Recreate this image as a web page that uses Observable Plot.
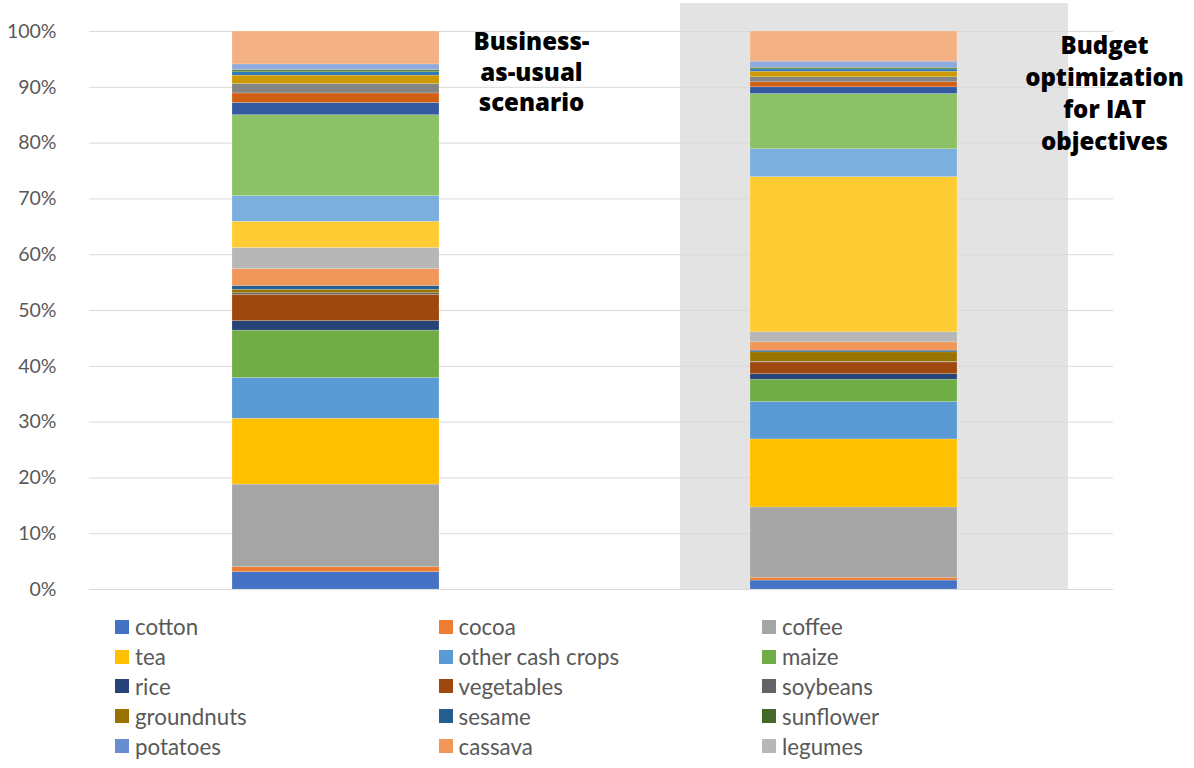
<!DOCTYPE html>
<html>
<head>
<meta charset="utf-8">
<script src="https://cdn.jsdelivr.net/npm/d3@7"></script>
<script src="https://cdn.jsdelivr.net/npm/@observablehq/plot@0.6"></script>
<style>
  body { margin: 0; background: #fff; font-family: Lato, sans-serif; }
  #legend { display: grid; grid-template-columns: 323.5px 323.5px 323.5px; padding-left: 115px; margin-top: 7px; }
  .item { display: flex; align-items: center; height: 29.8px; font-size: 22.3px; color: #595959; }
  .sw { width: 14px; height: 14px; margin-right: 6px; flex: none; }
</style>
</head>
<body>
<div id="chart"></div>
<div id="legend"></div>
<script>
const scenarios = ["Business-as-usual scenario", "Budget optimization for IAT objectives"];
const scenarioLabels = ["Business-\nas-usual\nscenario", "Budget\noptimization\nfor IAT\nobjectives"];
const crops = ["cotton","cocoa","coffee","tea","other cash crops","maize","rice","vegetables","soybeans","groundnuts","sesame","sunflower","potatoes","cassava","legumes",
  "series 16","series 17","series 18","series 19","series 20","series 21","series 22","series 23","series 24","series 25","series 26"];
const legendCrops = crops.slice(0, 15);
// percentage shares, bottom to top
const bauShares = [3.1,0.9,14.8,11.8,7.3,8.5,1.7,4.7,0.3,0.6,0.7,0,0,3.0,3.8,4.7,4.6,14.5,2.2,1.7,1.7,1.5,0.6,0.4,1.0,5.9];
const optShares = [1.6,0.5,12.6,12.2,6.7,4.0,1.0,2.1,0.1,1.7,0.3,0,0,1.5,1.8,27.8,5.0,9.9,1.2,0.9,0.9,1.0,0.4,0.3,1.1,5.4];
const yTicks = [0,10,20,30,40,50,60,70,80,90,100];
const palette = ["#4472C4","#ED7D31","#A5A5A5","#FFC000","#5B9BD5","#70AD47","#264478","#9E480E","#636363","#997300","#255E91","#43682B","#698ED0","#F1975A","#B7B7B7",
  "#FFCD33","#7CAFDD","#8CC168","#335AA1","#D26012","#848484","#CC9A00","#2E75B6","#548235","#8FAADC","#F4B183"];

const table = crops.flatMap((c, i) => [
  {scenario: scenarios[0], crop: c, share: bauShares[i]},
  {scenario: scenarios[1], crop: c, share: optShares[i]}
]);

const chart = Plot.plot({
  width: 1194,
  height: 605,
  marginLeft: 89,
  marginRight: 81,
  marginTop: 31,
  marginBottom: 16,
  style: {fontFamily: "Lato, sans-serif", fontSize: "19.5px", color: "#595959", background: "#fff"},
  x: {domain: scenarios, paddingInner: 0.6, paddingOuter: 0.287, align: 0.48, axis: null},
  y: {domain: [0, 100], ticks: yTicks},
  color: {domain: crops, range: palette},
  marks: [
    Plot.barY([scenarios[1]], {x: d => d, y1: 0, y2: 105, fill: "#E3E3E3", insetLeft: -70, insetRight: -111}),
    Plot.gridY(yTicks, {stroke: "#D9D9D9", strokeOpacity: 1, strokeWidth: 1}),
    Plot.barY(table, {x: "scenario", y: "share", fill: "crop", stroke: "white", strokeOpacity: 0.3, strokeWidth: 0.6}),
    Plot.axisY(yTicks, {tickFormat: d => d + "%", tickSize: 0, tickPadding: 33, label: null, fontSize: 19.5}),
    Plot.text([0], {x: () => scenarios[0], y: 100, text: () => scenarioLabels[0], dx: 195.5, dy: -3, lineAnchor: "top", lineHeight: 1.27,
      fontSize: 24, fontWeight: 800, fontFamily: "Open Sans, sans-serif", fill: "black"}),
    Plot.text([1], {x: () => scenarios[1], y: 100, text: () => scenarioLabels[1], dx: 250.5, dy: 0, lineAnchor: "top", lineHeight: 1.33,
      fontSize: 24, fontWeight: 800, fontFamily: "Open Sans, sans-serif", fill: "black"})
  ]
});
document.getElementById("chart").appendChild(chart);

const legend = document.getElementById("legend");
legendCrops.forEach((c, i) => {
  const item = document.createElement("div");
  item.className = "item";
  const sw = document.createElement("span");
  sw.className = "sw";
  sw.style.background = palette[i];
  const lab = document.createElement("span");
  lab.textContent = c;
  item.appendChild(sw);
  item.appendChild(lab);
  legend.appendChild(item);
});
</script>
</body>
</html>
